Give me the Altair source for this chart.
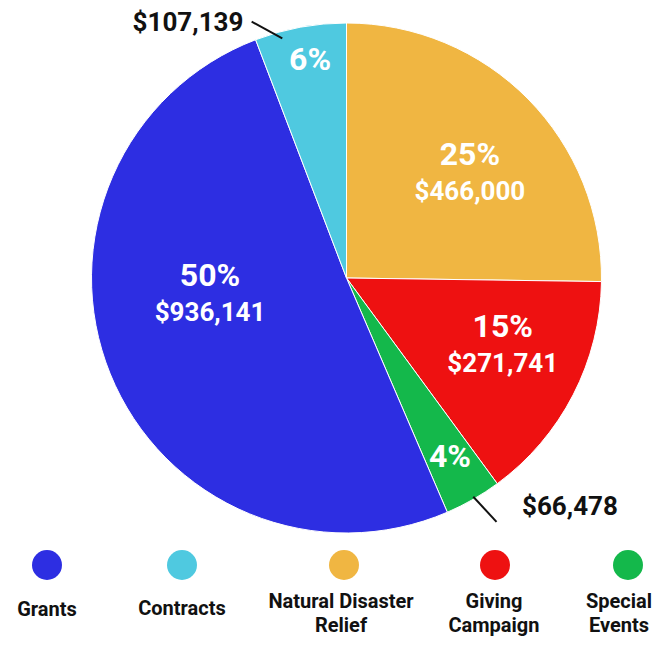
import math
import pandas as pd
import altair as alt

# ---- data ----
categories = ["Natural Disaster Relief", "Giving Campaign", "Special Events", "Grants", "Contracts"]
amounts = [466000, 271741, 66478, 936141, 107139]
pct_labels = ["25%", "15%", "4%", "50%", "6%"]
dollar_labels = ["$466,000", "$271,741", "$66,478", "$936,141", "$107,139"]
colors = ["#F0B642", "#EE1111", "#14B84B", "#2D2EE2", "#4FC9E0"]

legend_order = ["Grants", "Contracts", "Natural Disaster Relief", "Giving Campaign", "Special Events"]
legend_text = ["Grants", "Contracts", "Natural Disaster\nRelief", "Giving\nCampaign", "Special\nEvents"]

# ---- layout constants ----
CX, CY, R = 338.5, 270.0, 255
FONT = "Roboto"
# label anchors (angle in degrees clockwise from top, radius px)
inner_ang = [49.6, 113.2, 150.0, 263.3, 350.5]
inner_r = [162, 170, 206.8, 137.4, 221]
two_line = [True, True, False, True, False]
outer_idx = [2, 4]
outer_ang = [135.7, 328.1]
outer_r = [320, 300]
leader = [(149.9, 252.8, 148.4, 286.3), (345.0, 248.1, 339.7, 273.3)]
legend_x = [39, 174, 336, 487, 620]
legend_label_x = [39, 174, 333, 486, 611]
legend_label_y = [602, 601, 594, 594, 594]
legend_circle_y = 557


def polar(ang, r):
    a = math.radians(ang)
    return CX + r * math.sin(a), CY - r * math.cos(a)


pie_df = pd.DataFrame({
    "category": categories,
    "amount": amounts,
    "order": list(range(len(categories))),
})

color_scale = alt.Scale(domain=categories, range=colors)

arcs = alt.Chart(pie_df).mark_arc(outerRadius=R, stroke="white", strokeWidth=1).encode(
    theta=alt.Theta("amount:Q", stack=True),
    order=alt.Order("order:Q"),
    color=alt.Color("category:N", scale=color_scale, legend=None),
    x=alt.value(CX),
    y=alt.value(CY),
)

rows = []
for i, c in enumerate(categories):
    x, y = polar(inner_ang[i], inner_r[i])
    rows.append({"category": c, "pct": pct_labels[i], "dollar": dollar_labels[i],
                 "x": x, "y": y, "two": two_line[i]})
lab_df = pd.DataFrame(rows)
two_df = lab_df[lab_df["two"]]
one_df = lab_df[~lab_df["two"]]

pct_two = alt.Chart(two_df).mark_text(
    font=FONT, fontSize=32, fontWeight="bold", color="white", dy=-18, baseline="middle", align="center"
).encode(x=alt.X("x:Q", scale=None), y=alt.Y("y:Q", scale=None), text="pct:N")

dollar_two = alt.Chart(two_df).mark_text(
    font=FONT, fontSize=26, fontWeight="bold", color="white", dy=19, baseline="middle", align="center"
).encode(x=alt.X("x:Q", scale=None), y=alt.Y("y:Q", scale=None), text="dollar:N")

pct_one = alt.Chart(one_df).mark_text(
    font=FONT, fontSize=32, fontWeight="bold", color="white", baseline="middle", align="center"
).encode(x=alt.X("x:Q", scale=None), y=alt.Y("y:Q", scale=None), text="pct:N")

orows = []
for k, i in enumerate(outer_idx):
    x, y = polar(outer_ang[k], outer_r[k])
    orows.append({"dollar": dollar_labels[i], "x": x, "y": y})
out_df = pd.DataFrame(orows)
outer_text = alt.Chart(out_df).mark_text(
    font=FONT, fontSize=26, fontWeight="bold", color="#111111", baseline="middle", align="center"
).encode(x=alt.X("x:Q", scale=None), y=alt.Y("y:Q", scale=None), text="dollar:N")

lrows = []
for a1, r1, a2, r2 in leader:
    x1, y1 = polar(a1, r1)
    x2, y2 = polar(a2, r2)
    lrows.append({"x1": x1, "y1": y1, "x2": x2, "y2": y2})
leader_df = pd.DataFrame(lrows)
leaders = alt.Chart(leader_df).mark_rule(color="#111111", strokeWidth=2).encode(
    x=alt.X("x1:Q", scale=None), y=alt.Y("y1:Q", scale=None),
    x2="x2:Q", y2="y2:Q",
)

leg_df = pd.DataFrame({
    "category": legend_order,
    "label": legend_text,
    "cx": legend_x,
    "lx": legend_label_x,
    "ly": legend_label_y,
})
leg_points = alt.Chart(leg_df).mark_circle(size=900, opacity=1).encode(
    x=alt.X("cx:Q", scale=None),
    y=alt.value(legend_circle_y),
    color=alt.Color("category:N", scale=color_scale, legend=None),
)
leg_text = alt.Chart(leg_df).mark_text(
    font=FONT, fontSize=20, fontWeight="bold", color="#111111", lineBreak="\n", lineHeight=24,
    baseline="middle", align="center"
).encode(x=alt.X("lx:Q", scale=None), y=alt.Y("ly:Q", scale=None), text="label:N")

chart = alt.layer(
    arcs, pct_two, dollar_two, pct_one, leaders, outer_text, leg_points, leg_text
).properties(
    width=654, height=630, autosize="none", padding=0, background="white"
).configure_view(stroke=None)

chart.save("out.html", embed_options={"renderer": "svg", "actions": False})
